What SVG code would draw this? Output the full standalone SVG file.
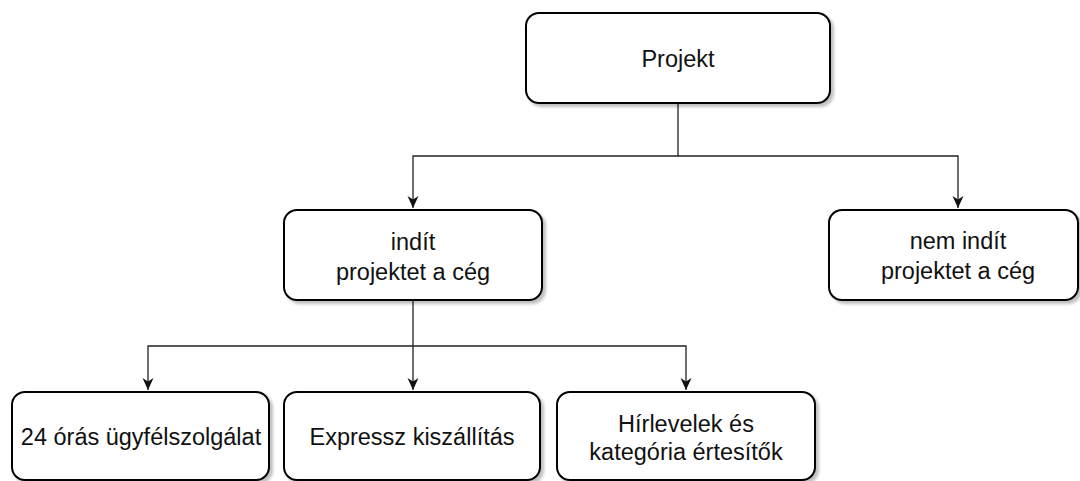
<svg xmlns="http://www.w3.org/2000/svg" width="1080" height="481" viewBox="0 0 1080 481">
<style>
.box{fill:#fff;stroke:#000;stroke-width:2;filter:url(#sh)}
.lbl{font-family:"Liberation Sans",Arial,sans-serif;font-size:23.5px;fill:#111;text-anchor:middle}
.edge{fill:none;stroke:#222;stroke-width:1.3}
</style>
<defs>
<filter id="sh" x="-10%" y="-10%" width="125%" height="130%">
<feGaussianBlur in="SourceAlpha" stdDeviation="1.5"/>
<feOffset dx="3" dy="3" result="b"/>
<feComponentTransfer><feFuncA type="linear" slope="0.25"/></feComponentTransfer>
<feMerge><feMergeNode/><feMergeNode in="SourceGraphic"/></feMerge>
</filter>
<marker id="arr" markerUnits="userSpaceOnUse" markerWidth="13" markerHeight="13" refX="12" refY="6.5" orient="auto" viewBox="0 0 13 13">
<path d="M0,1 L12,6.5 L0,12 L3.5,6.5 z" fill="#111"/>
</marker>
</defs>
<g id="connectors">
<path class="edge" d="M678,103 V156 H413 V208" marker-end="url(#arr)"/>
<path class="edge" d="M678,156 H958 V208" marker-end="url(#arr)"/>
<path class="edge" d="M413,300 V390" marker-end="url(#arr)"/>
<path class="edge" d="M413,346 H148 V390" marker-end="url(#arr)"/>
<path class="edge" d="M413,346 H686 V390" marker-end="url(#arr)"/>
</g>
<g id="node-projekt">
<rect class="box" x="526" y="13" width="304" height="90" rx="13"/>
<text class="lbl" x="678" y="67">Projekt</text>
</g>
<g id="node-indit">
<rect class="box" x="284" y="210" width="258" height="90" rx="13"/>
<text class="lbl" x="413" y="250">indít</text>
<text class="lbl" x="413" y="280">projektet a cég</text>
</g>
<g id="node-nem-indit">
<rect class="box" x="829" y="210" width="249" height="90" rx="13"/>
<text class="lbl" x="958" y="249">nem indít</text>
<text class="lbl" x="958" y="279">projektet a cég</text>
</g>
<g id="node-24oras">
<rect class="box" x="12" y="392" width="257" height="88" rx="13"/>
<text class="lbl" x="141" y="445">24 órás ügyfélszolgálat</text>
</g>
<g id="node-expressz">
<rect class="box" x="284" y="392" width="256" height="88" rx="13"/>
<text class="lbl" x="412" y="445">Expressz kiszállítás</text>
</g>
<g id="node-hirlevelek">
<rect class="box" x="557" y="392" width="258" height="88" rx="13"/>
<text class="lbl" x="686" y="432">Hírlevelek és</text>
<text class="lbl" x="686" y="460">kategória értesítők</text>
</g>
</svg>
